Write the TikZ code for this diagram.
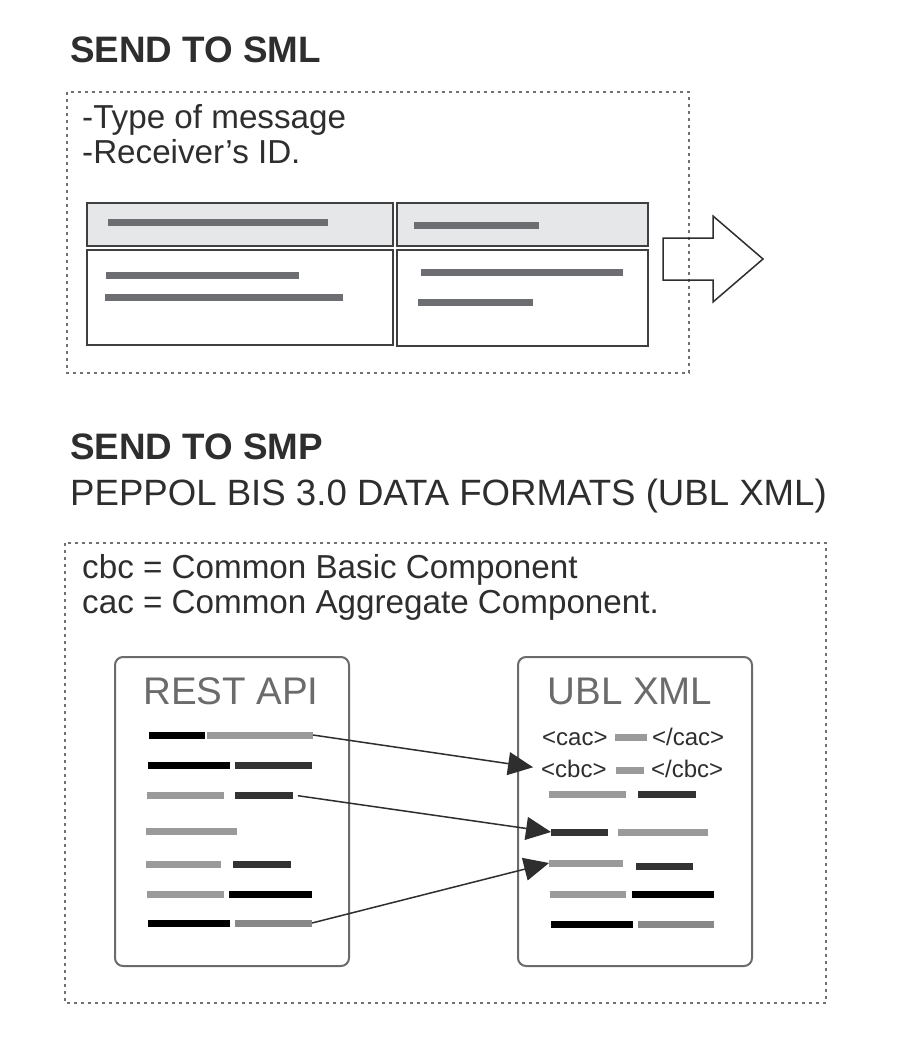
\documentclass[tikz,border=0pt]{standalone}
\usepackage{fontspec}
\setmainfont{Liberation Sans}
\usetikzlibrary{arrows.meta, positioning}
\definecolor{inkgray}{HTML}{2E2E2E}
\definecolor{dashgray}{HTML}{707070}
\definecolor{linegray}{HTML}{6D6E71}
\definecolor{hdrfill}{HTML}{E6E7E8}
\definecolor{framegray}{HTML}{3F3F3F}
\definecolor{boxgray}{HTML}{6B6B6B}
\definecolor{barblk}{HTML}{000000}
\definecolor{bardark}{HTML}{333333}
\definecolor{barlight}{HTML}{9A9A9A}
\definecolor{barmid}{HTML}{888888}
\tikzset{%
	heading/.style={anchor=base west, inner sep=0, text=inkgray, font=\bfseries\fontsize{36.8}{40}\selectfont},
	note/.style={anchor=base west, inner sep=0, text=inkgray, font=\fontsize{33.2}{36}\selectfont},
	dashbox/.style={draw=dashgray, line width=1.5pt, dash pattern=on 3pt off 4pt},
	cell/.style={draw=framegray, line width=2pt, anchor=north west, inner sep=0},
	bar/.style={minimum width=#1, minimum height=7pt, inner sep=0, outer sep=0, anchor=west},
	docbox/.style={draw=boxgray, line width=2pt, rounded corners=8pt, anchor=north west, inner sep=0},
	doctitle/.style={anchor=base, inner sep=0, text=boxgray, font=\fontsize{38.5}{40}\selectfont},
	tagtext/.style={anchor=base west, inner sep=0, text=inkgray, font=\fontsize{24}{26}\selectfont},
	link/.style={-{Triangle[length=25pt, width=23pt]}, draw=inkgray, line width=1.5pt},
	bigarrow/.style={draw=inkgray, line width=1.5pt, line join=miter}
}
\begin{document}
\begin{tikzpicture}[x=1pt, y=-1pt]
	\useasboundingbox[fill=white] (0,0) rectangle (900,1058);

	\node[heading] (sml) at (70,62) {SEND TO SML};
	\draw[dashbox] (67,92) rectangle (689,373);
	\node[note] (typ) at (82,128) {-Type of message};
	\node[note] (rcv) at (82,163) {-Receiver’s ID.};

	\node[cell, fill=hdrfill, minimum width=306, minimum height=43] (h1) at (86,202) {};
	\node[cell, fill=hdrfill, minimum width=251, minimum height=43] (h2) at (396,202) {};
	\node[cell, fill=white, minimum width=306, minimum height=95] (b1) at (86,249) {};
	\node[cell, fill=white, minimum width=251, minimum height=96] (b2) at (396,249) {};
	\node[bar=220, fill=linegray] (t1) at (108,222) {};
	\node[bar=125, fill=linegray] (t2) at (414,225) {};
	\node[bar=193, fill=linegray] (t3) at (106,275) {};
	\node[bar=238, fill=linegray] (t4) at (105,297) {};
	\node[bar=202, fill=linegray] (t5) at (421,272) {};
	\node[bar=115, fill=linegray] (t6) at (418,302) {};

	\draw[bigarrow] (663,238) -- (713,238) -- (713,216) -- (763,259) -- (713,302) -- (713,280) -- (663,280) -- cycle;

	\node[heading] (smp) at (70,459) {SEND TO SMP};
	\node[note, font=\fontsize{36.6}{40}\selectfont] (fmt) at (70,505) {PEPPOL BIS 3.0 DATA FORMATS (UBL XML)};
	\draw[dashbox] (65,543) rectangle (826,1003);
	\node[note] (cbc) at (82,578) {cbc = Common Basic Component};
	\node[note] (cac) at (82,613) {cac = Common Aggregate Component.};

	\node[docbox, minimum width=234, minimum height=309] (rest) at (114,656) {};
	\node[doctitle] (restlbl) at (231,704) {REST API};
	\node[bar=56, fill=barblk] (r1a) at (149,735) {};
	\node[bar=106, fill=barlight] (r1b) at (207,735) {};
	\node[bar=82, fill=barblk] (r2a) at (148,765) {};
	\node[bar=77, fill=bardark] (r2b) at (235,765) {};
	\node[bar=77, fill=barlight] (r3a) at (147,795) {};
	\node[bar=58, fill=bardark] (r3b) at (235,795) {};
	\node[bar=91, fill=barlight] (r4a) at (146,831) {};
	\node[bar=75, fill=barlight] (r5a) at (146,864) {};
	\node[bar=58, fill=bardark] (r5b) at (233,864) {};
	\node[bar=77, fill=barlight] (r6a) at (147,894) {};
	\node[bar=83, fill=barblk] (r6b) at (229,894) {};
	\node[bar=82, fill=barblk] (r7a) at (148,923) {};
	\node[bar=77, fill=barmid] (r7b) at (235,923) {};

	\node[docbox, minimum width=234, minimum height=309] (ubl) at (517,656) {};
	\node[doctitle] (ubllbl) at (630,704) {UBL XML};
	\node[tagtext] (cacopen) at (542,745) {<cac>};
	\node[bar=32, fill=barlight] (u1) at (615,737) {};
	\node[tagtext] (cacclose) at (652,745) {</cac>};
	\node[tagtext] (cbcopen) at (541,777) {<cbc>};
	\node[bar=28, fill=barlight] (u2) at (616,770) {};
	\node[tagtext] (cbcclose) at (651,777) {</cbc>};
	\node[bar=77, fill=barlight] (u3a) at (549,794) {};
	\node[bar=58, fill=bardark] (u3b) at (638,794) {};
	\node[bar=57, fill=bardark] (u4a) at (551,832) {};
	\node[bar=90, fill=barlight] (u4b) at (618,832) {};
	\node[bar=74, fill=barlight] (u5a) at (549,863) {};
	\node[bar=57, fill=bardark] (u5b) at (636,866) {};
	\node[bar=76, fill=barlight] (u6a) at (550,894) {};
	\node[bar=82, fill=barblk] (u6b) at (632,894) {};
	\node[bar=82, fill=barblk] (u7a) at (551,924) {};
	\node[bar=76, fill=barmid] (u7b) at (638,924) {};

	\draw[link, shorten >=8pt] (r1b.east) -- (cbcopen.west);
	\draw[link, shorten <=5pt] (r3b.east) -- (u4a.west);
	\draw[link] (r7b.east) -- (u5a.west);
\end{tikzpicture}
\end{document}
